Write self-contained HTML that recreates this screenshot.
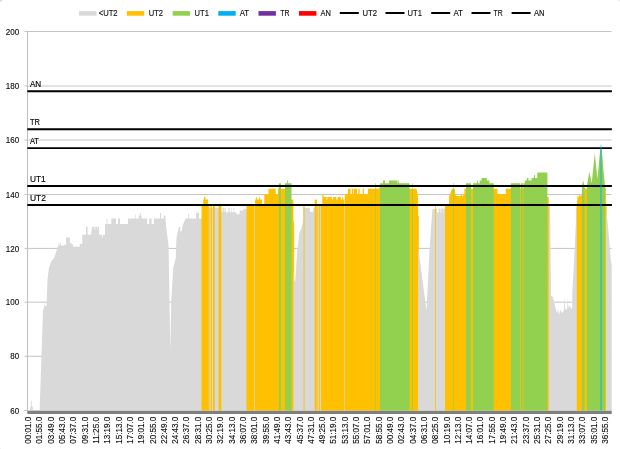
<!DOCTYPE html><html><head><meta charset="utf-8"><title>Chart</title><style>html,body{margin:0;padding:0;background:#fff}body{width:620px;height:449px;overflow:hidden}</style></head><body><svg width="620" height="449" viewBox="0 0 620 449" style="display:block;font-family:'Liberation Sans',sans-serif">
<rect width="620" height="449" fill="#fff"/>
<line x1="24.5" x2="611.6" y1="410.5" y2="410.5" stroke="#c4c4c4" stroke-width="1"/>
<line x1="24.5" x2="611.6" y1="356.3" y2="356.3" stroke="#c4c4c4" stroke-width="1"/>
<line x1="24.5" x2="611.6" y1="302.2" y2="302.2" stroke="#c4c4c4" stroke-width="1"/>
<line x1="24.5" x2="611.6" y1="248.4" y2="248.4" stroke="#c4c4c4" stroke-width="1"/>
<line x1="24.5" x2="611.6" y1="194.5" y2="194.5" stroke="#c4c4c4" stroke-width="1"/>
<line x1="24.5" x2="611.6" y1="140.0" y2="140.0" stroke="#c4c4c4" stroke-width="1"/>
<line x1="24.5" x2="611.6" y1="86.0" y2="86.0" stroke="#c4c4c4" stroke-width="1"/>
<line x1="24.5" x2="611.6" y1="31.5" y2="31.5" stroke="#c4c4c4" stroke-width="1"/>
<line x1="27.5" x2="27.5" y1="31" y2="411" stroke="#bfbfbf" stroke-width="1"/>
<path d="M27.3 410.5 L27.3 410.8 L30.2 410.8 L30.2 406.8 L30.9 406.8 L30.9 400.8 L31.7 400.8 L31.7 406.8 L32.8 406.8 L32.8 410.8 L39.6 410.8 L39.6 409.3 L39.7 409.3 L39.7 406.4 L39.8 406.4 L39.8 403.5 L39.9 403.5 L39.9 400.5 L40.0 400.5 L40.0 397.6 L40.1 397.6 L40.1 394.6 L40.2 394.6 L40.2 391.7 L40.3 391.7 L40.3 388.7 L40.4 388.7 L40.4 385.8 L40.5 385.8 L40.5 382.8 L40.6 382.8 L40.6 379.9 L40.7 379.9 L40.7 376.9 L40.8 376.9 L40.8 374.0 L40.9 374.0 L40.9 371.0 L41.0 371.0 L41.0 368.1 L41.1 368.1 L41.1 365.1 L41.2 365.1 L41.2 362.2 L41.3 362.2 L41.3 359.2 L41.4 359.2 L41.4 356.3 L41.5 356.3 L41.5 353.4 L41.6 353.4 L41.6 350.4 L41.7 350.4 L41.7 347.5 L41.8 347.5 L41.8 344.5 L41.9 344.5 L41.9 341.6 L42.0 341.6 L42.0 338.6 L42.1 338.6 L42.1 335.7 L42.2 335.7 L42.2 332.7 L42.3 332.7 L42.3 329.8 L42.4 329.8 L42.4 326.8 L42.5 326.8 L42.5 323.9 L42.6 323.9 L42.6 320.9 L42.7 320.9 L42.7 318.0 L42.8 318.0 L42.8 315.0 L42.9 315.0 L42.9 312.1 L43.0 312.1 L43.0 310.5 L43.1 310.5 L43.1 310.2 L43.2 310.2 L43.2 309.9 L43.3 309.9 L43.3 309.6 L43.4 309.6 L43.4 309.3 L43.5 309.3 L43.5 309.0 L43.6 309.0 L43.6 308.7 L43.7 308.7 L43.7 308.4 L43.8 308.4 L43.8 308.2 L43.9 308.2 L43.9 307.9 L44.0 307.9 L44.0 307.6 L44.1 307.6 L44.1 307.3 L44.2 307.3 L44.2 307.0 L44.3 307.0 L44.3 306.7 L44.4 306.7 L44.4 305.7 L44.5 305.7 L44.5 304.0 L44.6 304.0 L44.6 302.3 L44.7 302.3 L44.7 300.6 L44.8 300.6 L44.8 300.6 L44.9 300.6 L44.9 302.1 L45.0 302.1 L45.0 303.7 L45.1 303.7 L45.1 305.2 L45.2 305.2 L45.2 306.0 L46.5 306.0 L46.5 304.7 L46.6 304.7 L46.6 302.0 L46.7 302.0 L46.7 299.4 L46.8 299.4 L46.8 296.7 L46.9 296.7 L46.9 294.1 L47.0 294.1 L47.0 291.4 L47.1 291.4 L47.1 288.8 L47.2 288.8 L47.2 286.1 L47.3 286.1 L47.3 283.5 L47.4 283.5 L47.4 280.8 L47.5 280.8 L47.5 279.1 L47.6 279.1 L47.6 278.3 L47.7 278.3 L47.7 277.5 L47.8 277.5 L47.8 276.6 L47.9 276.6 L47.9 275.8 L48.0 275.8 L48.0 275.0 L48.1 275.0 L48.1 274.2 L48.2 274.2 L48.2 273.4 L48.3 273.4 L48.3 272.6 L48.4 272.6 L48.4 271.8 L48.5 271.8 L48.5 271.0 L48.6 271.0 L48.6 270.1 L48.7 270.1 L48.7 269.3 L48.8 269.3 L48.8 268.5 L48.9 268.5 L48.9 268.0 L49.0 268.0 L49.0 267.6 L49.1 267.6 L49.1 267.3 L49.2 267.3 L49.2 267.0 L49.3 267.0 L49.3 266.7 L49.4 266.7 L49.4 266.4 L49.5 266.4 L49.5 266.1 L49.6 266.1 L49.6 265.8 L49.7 265.8 L49.7 265.5 L49.8 265.5 L49.8 265.2 L49.9 265.2 L49.9 264.9 L50.0 264.9 L50.0 264.5 L50.1 264.5 L50.1 264.2 L50.2 264.2 L50.2 263.9 L50.3 263.9 L50.3 263.6 L50.4 263.6 L50.4 263.3 L50.5 263.3 L50.5 263.0 L50.6 263.0 L50.6 262.7 L50.7 262.7 L50.7 262.4 L50.8 262.4 L50.8 262.1 L50.9 262.1 L50.9 261.8 L51.0 261.8 L51.0 261.6 L51.1 261.6 L51.1 261.4 L51.2 261.4 L51.2 261.3 L51.3 261.3 L51.3 261.2 L51.4 261.2 L51.4 261.1 L51.5 261.1 L51.5 261.0 L51.6 261.0 L51.6 260.9 L51.7 260.9 L51.7 260.8 L51.8 260.8 L51.8 260.7 L51.9 260.7 L51.9 260.6 L52.0 260.6 L52.0 260.5 L52.1 260.5 L52.1 260.3 L52.2 260.3 L52.2 260.2 L52.3 260.2 L52.3 260.1 L52.4 260.1 L52.4 260.0 L52.5 260.0 L52.5 259.9 L52.6 259.9 L52.6 259.8 L52.7 259.8 L52.7 259.7 L52.8 259.7 L52.8 259.6 L52.9 259.6 L52.9 259.5 L53.0 259.5 L53.0 259.3 L53.1 259.3 L53.1 259.2 L53.2 259.2 L53.2 259.1 L53.3 259.1 L53.3 259.0 L53.4 259.0 L53.4 258.9 L53.5 258.9 L53.5 258.8 L53.6 258.8 L53.6 258.7 L53.7 258.7 L53.7 258.5 L53.8 258.5 L53.8 258.3 L53.9 258.3 L53.9 258.1 L54.0 258.1 L54.0 257.8 L54.1 257.8 L54.1 257.6 L54.2 257.6 L54.2 257.4 L54.3 257.4 L54.3 257.1 L54.4 257.1 L54.4 256.9 L54.5 256.9 L54.5 256.7 L54.6 256.7 L54.6 256.5 L54.7 256.5 L54.7 256.2 L54.8 256.2 L54.8 256.0 L54.9 256.0 L54.9 255.8 L55.0 255.8 L55.0 255.5 L55.1 255.5 L55.1 255.1 L55.2 255.1 L55.2 254.8 L55.3 254.8 L55.3 254.5 L55.4 254.5 L55.4 254.1 L55.5 254.1 L55.5 253.8 L55.6 253.8 L55.6 253.5 L55.7 253.5 L55.7 253.1 L55.8 253.1 L55.8 252.8 L55.9 252.8 L55.9 252.4 L56.0 252.4 L56.0 252.1 L56.1 252.1 L56.1 251.8 L56.2 251.8 L56.2 251.4 L56.3 251.4 L56.3 251.1 L56.4 251.1 L56.4 250.7 L56.5 250.7 L56.5 250.4 L56.6 250.4 L56.6 250.1 L56.7 250.1 L56.7 249.7 L56.8 249.7 L56.8 249.4 L56.9 249.4 L56.9 249.1 L57.0 249.1 L57.0 248.7 L57.1 248.7 L57.1 248.4 L57.2 248.4 L57.2 248.1 L57.3 248.1 L57.3 247.7 L57.4 247.7 L57.4 247.4 L57.5 247.4 L57.5 247.1 L57.6 247.1 L57.6 246.8 L57.7 246.8 L57.7 246.4 L57.8 246.4 L57.8 246.1 L57.9 246.1 L57.9 245.8 L58.0 245.8 L58.0 245.6 L58.6 245.6 L58.6 242.9 L59.4 242.9 L59.4 245.6 L60.2 245.6 L60.2 242.9 L61.0 242.9 L61.0 245.6 L64.0 245.6 L64.0 244.8 L66.0 244.8 L66.0 237.5 L69.8 237.5 L69.8 242.9 L71.5 242.9 L71.5 244.3 L73.0 244.3 L73.0 246.7 L79.8 246.7 L79.8 243.7 L82.3 243.7 L82.3 234.8 L86.0 234.8 L86.0 226.7 L87.6 226.7 L87.6 234.8 L91.0 234.8 L91.0 234.4 L91.1 234.4 L91.1 233.6 L91.2 233.6 L91.2 232.8 L91.3 232.8 L91.3 232.0 L91.4 232.0 L91.4 231.1 L91.5 231.1 L91.5 230.3 L91.6 230.3 L91.6 229.5 L91.7 229.5 L91.7 228.7 L91.8 228.7 L91.8 227.9 L91.9 227.9 L91.9 227.1 L92.0 227.1 L92.0 226.7 L94.5 226.7 L94.5 229.4 L95.3 229.4 L95.3 226.7 L97.0 226.7 L97.0 229.4 L97.6 229.4 L97.6 226.7 L99.0 226.7 L99.0 234.8 L102.0 234.8 L102.0 237.5 L102.8 237.5 L102.8 234.8 L105.0 234.8 L105.0 224.0 L106.6 224.0 L106.6 218.6 L107.4 218.6 L107.4 224.0 L111.3 224.0 L111.3 218.6 L116.0 218.6 L116.0 224.0 L118.0 224.0 L118.0 218.6 L120.0 218.6 L120.0 224.0 L128.0 224.0 L128.0 218.6 L135.2 218.6 L135.2 214.5 L135.8 214.5 L135.8 218.6 L138.7 218.6 L138.7 215.8 L139.8 215.8 L139.8 213.1 L140.8 213.1 L140.8 215.8 L141.6 215.8 L141.6 218.6 L147.0 218.6 L147.0 224.0 L149.3 224.0 L149.3 218.6 L151.6 218.6 L151.6 224.0 L154.0 224.0 L154.0 218.6 L160.0 218.6 L160.0 213.1 L161.0 213.1 L161.0 218.6 L163.7 218.6 L163.7 215.8 L165.3 215.8 L165.3 216.5 L165.4 216.5 L165.4 217.9 L165.5 217.9 L165.5 219.2 L165.6 219.2 L165.6 220.6 L165.7 220.6 L165.7 221.9 L165.8 221.9 L165.8 223.3 L165.9 223.3 L165.9 224.6 L166.0 224.6 L166.0 225.7 L166.1 225.7 L166.1 226.5 L166.2 226.5 L166.2 227.3 L166.3 227.3 L166.3 228.1 L166.4 228.1 L166.4 228.9 L166.5 228.9 L166.5 229.7 L166.6 229.7 L166.6 230.5 L166.7 230.5 L166.7 231.3 L166.8 231.3 L166.8 232.1 L166.9 232.1 L166.9 232.9 L167.0 232.9 L167.0 233.7 L167.1 233.7 L167.1 234.5 L167.2 234.5 L167.2 235.3 L167.3 235.3 L167.3 236.1 L167.4 236.1 L167.4 237.0 L167.5 237.0 L167.5 237.8 L167.6 237.8 L167.6 238.6 L167.7 238.6 L167.7 239.4 L167.8 239.4 L167.8 240.2 L167.9 240.2 L167.9 241.0 L168.0 241.0 L168.0 241.8 L168.1 241.8 L168.1 242.6 L168.2 242.6 L168.2 243.4 L168.3 243.4 L168.3 244.2 L168.4 244.2 L168.4 245.0 L168.5 245.0 L168.5 245.8 L168.6 245.8 L168.6 249.2 L168.7 249.2 L168.7 255.4 L168.8 255.4 L168.8 261.5 L168.9 261.5 L168.9 267.7 L169.0 267.7 L169.0 273.8 L169.1 273.8 L169.1 279.9 L169.2 279.9 L169.2 286.1 L169.3 286.1 L169.3 292.2 L169.4 292.2 L169.4 298.3 L169.5 298.3 L169.5 304.6 L169.6 304.6 L169.6 311.0 L169.7 311.0 L169.7 317.3 L169.8 317.3 L169.8 323.7 L169.9 323.7 L169.9 330.1 L170.0 330.1 L170.0 336.4 L170.1 336.4 L170.1 342.8 L170.2 342.8 L170.2 349.1 L170.3 349.1 L170.3 349.5 L170.4 349.5 L170.4 343.8 L170.5 343.8 L170.5 338.2 L170.6 338.2 L170.6 332.5 L170.7 332.5 L170.7 326.9 L170.8 326.9 L170.8 321.2 L170.9 321.2 L170.9 315.6 L171.0 315.6 L171.0 309.9 L171.1 309.9 L171.1 304.2 L171.2 304.2 L171.2 300.6 L171.3 300.6 L171.3 299.0 L171.4 299.0 L171.4 297.4 L171.5 297.4 L171.5 295.7 L171.6 295.7 L171.6 294.1 L171.7 294.1 L171.7 292.5 L171.8 292.5 L171.8 290.9 L171.9 290.9 L171.9 289.2 L172.0 289.2 L172.0 287.6 L172.1 287.6 L172.1 286.0 L172.2 286.0 L172.2 284.4 L172.3 284.4 L172.3 282.7 L172.4 282.7 L172.4 281.1 L172.5 281.1 L172.5 279.5 L172.6 279.5 L172.6 277.9 L172.7 277.9 L172.7 276.2 L172.8 276.2 L172.8 274.6 L172.9 274.6 L172.9 273.0 L173.0 273.0 L173.0 271.4 L173.1 271.4 L173.1 269.7 L173.2 269.7 L173.2 268.1 L173.3 268.1 L173.3 267.1 L173.4 267.1 L173.4 266.7 L173.5 266.7 L173.5 266.3 L173.6 266.3 L173.6 266.0 L173.7 266.0 L173.7 265.6 L173.8 265.6 L173.8 265.2 L173.9 265.2 L173.9 264.8 L174.0 264.8 L174.0 264.5 L174.1 264.5 L174.1 264.1 L174.2 264.1 L174.2 263.7 L174.3 263.7 L174.3 263.3 L174.4 263.3 L174.4 262.9 L174.5 262.9 L174.5 262.6 L174.6 262.6 L174.6 262.2 L174.7 262.2 L174.7 261.8 L174.8 261.8 L174.8 261.4 L174.9 261.4 L174.9 261.0 L175.0 261.0 L175.0 260.7 L175.1 260.7 L175.1 260.3 L175.2 260.3 L175.2 259.9 L175.3 259.9 L175.3 259.5 L175.4 259.5 L175.4 259.1 L175.5 259.1 L175.5 258.8 L175.6 258.8 L175.6 258.4 L175.7 258.4 L175.7 258.0 L175.8 258.0 L175.8 256.2 L175.9 256.2 L175.9 253.1 L176.0 253.1 L176.0 249.9 L176.1 249.9 L176.1 246.8 L176.2 246.8 L176.2 243.6 L176.3 243.6 L176.3 240.4 L176.4 240.4 L176.4 238.6 L176.5 238.6 L176.5 238.0 L176.6 238.0 L176.6 237.5 L176.7 237.5 L176.7 236.9 L176.8 236.9 L176.8 236.3 L176.9 236.3 L176.9 235.8 L177.0 235.8 L177.0 235.2 L177.1 235.2 L177.1 234.6 L177.2 234.6 L177.2 234.1 L177.3 234.1 L177.3 233.5 L177.4 233.5 L177.4 232.9 L177.5 232.9 L177.5 232.4 L177.6 232.4 L177.6 231.9 L177.7 231.9 L177.7 231.5 L177.8 231.5 L177.8 231.1 L177.9 231.1 L177.9 230.7 L178.0 230.7 L178.0 230.4 L178.1 230.4 L178.1 230.0 L178.2 230.0 L178.2 229.6 L178.3 229.6 L178.3 229.2 L178.4 229.2 L178.4 228.8 L178.5 228.8 L178.5 228.4 L178.6 228.4 L178.6 228.0 L178.7 228.0 L178.7 227.6 L178.8 227.6 L178.8 227.3 L178.9 227.3 L178.9 226.9 L179.0 226.9 L179.0 226.7 L180.2 226.7 L180.2 231.3 L181.5 231.3 L181.5 231.0 L181.6 231.0 L181.6 230.5 L181.7 230.5 L181.7 230.0 L181.8 230.0 L181.8 229.5 L181.9 229.5 L181.9 228.9 L182.0 228.9 L182.0 228.4 L182.1 228.4 L182.1 227.9 L182.2 227.9 L182.2 227.4 L182.3 227.4 L182.3 226.9 L182.4 226.9 L182.4 226.3 L182.5 226.3 L182.5 225.8 L182.6 225.8 L182.6 225.3 L182.7 225.3 L182.7 224.9 L182.8 224.9 L182.8 224.7 L182.9 224.7 L182.9 224.5 L183.0 224.5 L183.0 224.3 L183.1 224.3 L183.1 224.1 L183.2 224.1 L183.2 223.8 L183.3 223.8 L183.3 223.6 L183.4 223.6 L183.4 223.4 L183.5 223.4 L183.5 223.2 L183.6 223.2 L183.6 223.0 L183.7 223.0 L183.7 222.8 L183.8 222.8 L183.8 222.5 L183.9 222.5 L183.9 222.3 L184.0 222.3 L184.0 222.1 L184.1 222.1 L184.1 221.9 L184.2 221.9 L184.2 221.7 L184.3 221.7 L184.3 221.4 L184.4 221.4 L184.4 221.2 L184.5 221.2 L184.5 221.0 L184.6 221.0 L184.6 220.8 L184.7 220.8 L184.7 220.6 L184.8 220.6 L184.8 220.3 L184.9 220.3 L184.9 220.1 L185.0 220.1 L185.0 219.9 L185.1 219.9 L185.1 219.7 L185.2 219.7 L185.2 219.5 L185.3 219.5 L185.3 218.6 L188.2 218.6 L188.2 213.9 L189.0 213.9 L189.0 218.6 L196.0 218.6 L196.0 213.1 L196.8 213.1 L196.8 210.4 L197.4 210.4 L197.4 213.1 L199.0 213.1 L199.0 218.6 L201.5 218.6 L201.5 410.5 Z" fill="#d9d9d9"/>
<path d="M200.75 410.5 L200.75 218.9 L202.25 218.9 L202.25 410.5 Z" fill="#d9d9d9"/>
<path d="M201.5 410.5 L201.5 204.2 L203.2 204.2 L203.2 199.6 L204.0 199.6 L204.0 196.9 L205.4 196.9 L205.4 199.6 L208.0 199.6 L208.0 204.2 L208.9 204.2 L208.9 410.5 Z" fill="#ffc000"/>
<path d="M208.15 410.5 L208.15 208.0 L209.65 208.0 L209.65 410.5 Z" fill="#ffc000"/>
<path d="M208.9 410.5 L208.9 207.7 L209.7 207.7 L209.7 410.5 Z" fill="#d9d9d9"/>
<path d="M208.95 410.5 L208.95 208.0 L210.45 208.0 L210.45 410.5 Z" fill="#d9d9d9"/>
<path d="M209.7 410.5 L209.7 204.2 L210.6 204.2 L210.6 410.5 Z" fill="#ffc000"/>
<path d="M209.85 410.5 L209.85 208.0 L211.35 208.0 L211.35 410.5 Z" fill="#ffc000"/>
<path d="M210.6 410.5 L210.6 207.7 L211.3 207.7 L211.3 410.5 Z" fill="#d9d9d9"/>
<path d="M210.60 410.5 L210.60 208.0 L212.05 208.0 L212.05 410.5 Z" fill="#d9d9d9"/>
<path d="M211.3 410.5 L211.3 204.2 L212.0 204.2 L212.0 410.5 Z" fill="#ffc000"/>
<path d="M211.30 410.5 L211.30 208.0 L212.75 208.0 L212.75 410.5 Z" fill="#ffc000"/>
<path d="M212.0 410.5 L212.0 207.7 L213.0 207.7 L213.0 410.5 Z" fill="#d9d9d9"/>
<path d="M212.25 410.5 L212.25 208.0 L213.75 208.0 L213.75 410.5 Z" fill="#d9d9d9"/>
<path d="M213.0 410.5 L213.0 204.2 L214.8 204.2 L214.8 410.5 Z" fill="#ffc000"/>
<path d="M214.05 410.5 L214.05 208.0 L215.55 208.0 L215.55 410.5 Z" fill="#ffc000"/>
<path d="M214.8 410.5 L214.8 207.7 L218.6 207.7 L218.6 410.5 Z" fill="#d9d9d9"/>
<path d="M217.85 410.5 L217.85 208.0 L219.35 208.0 L219.35 410.5 Z" fill="#d9d9d9"/>
<path d="M218.6 410.5 L218.6 204.2 L221.3 204.2 L221.3 410.5 Z" fill="#ffc000"/>
<path d="M220.55 410.5 L220.55 212.1 L222.05 212.1 L222.05 410.5 Z" fill="#ffc000"/>
<path d="M221.3 410.5 L221.3 211.8 L221.5 211.8 L221.5 207.7 L222.4 207.7 L222.4 211.8 L223.0 211.8 L223.0 207.7 L223.9 207.7 L223.9 211.8 L224.5 211.8 L224.5 207.7 L225.6 207.7 L225.6 211.8 L226.0 211.8 L226.0 212.3 L228.0 212.3 L228.0 207.7 L228.5 207.7 L228.5 212.3 L229.3 212.3 L229.3 207.7 L230.0 207.7 L230.0 212.3 L231.0 212.3 L231.0 207.7 L231.6 207.7 L231.6 212.3 L233.5 212.3 L233.5 207.7 L234.2 207.7 L234.2 212.3 L236.4 212.3 L236.4 214.2 L239.6 214.2 L239.6 210.4 L243.5 210.4 L243.5 208.8 L246.5 208.8 L246.5 410.5 Z" fill="#d9d9d9"/>
<path d="M245.75 410.5 L245.75 209.1 L247.25 209.1 L247.25 410.5 Z" fill="#d9d9d9"/>
<path d="M246.5 410.5 L246.5 204.2 L254.5 204.2 L254.5 410.5 Z" fill="#ffc000"/>
<path d="M253.75 410.5 L253.75 207.2 L255.25 207.2 L255.25 410.5 Z" fill="#ffc000"/>
<path d="M254.5 410.5 L254.5 206.9 L255.0 206.9 L255.0 410.5 Z" fill="#d9d9d9"/>
<path d="M254.50 410.5 L254.50 207.2 L255.75 207.2 L255.75 410.5 Z" fill="#d9d9d9"/>
<path d="M255.0 410.5 L255.0 199.6 L256.0 199.6 L256.0 196.9 L256.8 196.9 L256.8 199.6 L259.2 199.6 L259.2 196.9 L260.0 196.9 L260.0 199.6 L262.0 199.6 L262.0 204.2 L264.3 204.2 L264.3 194.2 L268.5 194.2 L268.5 188.8 L275.6 188.8 L275.6 194.2 L278.0 194.2 L278.0 188.8 L278.8 188.8 L278.8 410.5 Z" fill="#ffc000"/>
<path d="M278.05 410.5 L278.05 189.1 L279.55 189.1 L279.55 410.5 Z" fill="#ffc000"/>
<path d="M278.8 410.5 L278.8 183.3 L281.0 183.3 L281.0 410.5 Z" fill="#92d050"/>
<path d="M280.25 410.5 L280.25 189.1 L281.75 189.1 L281.75 410.5 Z" fill="#92d050"/>
<path d="M281.0 410.5 L281.0 188.8 L285.0 188.8 L285.0 410.5 Z" fill="#ffc000"/>
<path d="M284.25 410.5 L284.25 189.1 L285.75 189.1 L285.75 410.5 Z" fill="#ffc000"/>
<path d="M285.0 410.5 L285.0 183.3 L287.0 183.3 L287.0 180.6 L287.8 180.6 L287.8 183.3 L291.5 183.3 L291.5 410.5 Z" fill="#92d050"/>
<path d="M290.75 410.5 L290.75 199.9 L292.25 199.9 L292.25 410.5 Z" fill="#92d050"/>
<path d="M291.5 410.5 L291.5 199.6 L293.3 199.6 L293.3 202.3 L293.4 202.3 L293.4 410.5 Z" fill="#ffc000"/>
<path d="M292.65 410.5 L292.65 221.6 L294.15 221.6 L294.15 410.5 Z" fill="#ffc000"/>
<path d="M293.4 410.5 L293.4 221.3 L293.5 221.3 L293.5 253.8 L293.6 253.8 L293.6 270.7 L293.7 270.7 L293.7 272.1 L293.8 272.1 L293.8 273.5 L293.9 273.5 L293.9 275.0 L294.0 275.0 L294.0 276.4 L294.1 276.4 L294.1 277.8 L294.2 277.8 L294.2 279.2 L294.3 279.2 L294.3 280.6 L294.4 280.6 L294.4 282.0 L294.5 282.0 L294.5 282.6 L294.6 282.6 L294.6 282.3 L294.7 282.3 L294.7 282.1 L294.8 282.1 L294.8 281.8 L294.9 281.8 L294.9 281.5 L295.0 281.5 L295.0 281.2 L295.1 281.2 L295.1 281.0 L295.2 281.0 L295.2 280.1 L295.3 280.1 L295.3 278.7 L295.4 278.7 L295.4 277.2 L295.5 277.2 L295.5 275.8 L295.6 275.8 L295.6 274.4 L295.7 274.4 L295.7 272.9 L295.8 272.9 L295.8 271.5 L295.9 271.5 L295.9 270.0 L296.0 270.0 L296.0 268.6 L296.1 268.6 L296.1 267.2 L296.2 267.2 L296.2 265.7 L296.3 265.7 L296.3 264.3 L296.4 264.3 L296.4 262.8 L296.5 262.8 L296.5 261.4 L296.6 261.4 L296.6 260.0 L296.7 260.0 L296.7 258.5 L296.8 258.5 L296.8 257.1 L296.9 257.1 L296.9 255.6 L297.0 255.6 L297.0 254.2 L297.1 254.2 L297.1 252.8 L297.2 252.8 L297.2 251.3 L297.3 251.3 L297.3 249.9 L297.4 249.9 L297.4 248.7 L297.5 248.7 L297.5 247.9 L297.6 247.9 L297.6 247.1 L297.7 247.1 L297.7 246.3 L297.8 246.3 L297.8 245.5 L297.9 245.5 L297.9 244.7 L298.0 244.7 L298.0 243.9 L298.1 243.9 L298.1 243.1 L298.2 243.1 L298.2 242.2 L298.3 242.2 L298.3 241.4 L298.4 241.4 L298.4 240.6 L298.5 240.6 L298.5 239.8 L298.6 239.8 L298.6 239.0 L298.7 239.0 L298.7 238.2 L298.8 238.2 L298.8 237.4 L298.9 237.4 L298.9 236.6 L299.0 236.6 L299.0 235.7 L299.1 235.7 L299.1 234.9 L299.2 234.9 L299.2 234.1 L299.3 234.1 L299.3 233.3 L299.4 233.3 L299.4 232.8 L299.5 232.8 L299.5 232.5 L299.6 232.5 L299.6 232.3 L299.7 232.3 L299.7 232.1 L299.8 232.1 L299.8 231.8 L299.9 231.8 L299.9 231.6 L300.0 231.6 L300.0 231.3 L300.1 231.3 L300.1 231.1 L300.2 231.1 L300.2 230.9 L300.3 230.9 L300.3 230.6 L300.4 230.6 L300.4 230.4 L300.5 230.4 L300.5 230.1 L300.6 230.1 L300.6 229.9 L300.7 229.9 L300.7 229.7 L300.8 229.7 L300.8 229.4 L300.9 229.4 L300.9 229.2 L301.0 229.2 L301.0 229.0 L301.1 229.0 L301.1 228.7 L301.2 228.7 L301.2 228.5 L301.3 228.5 L301.3 228.2 L301.4 228.2 L301.4 228.0 L301.5 228.0 L301.5 227.8 L301.6 227.8 L301.6 227.5 L301.7 227.5 L301.7 227.3 L301.8 227.3 L301.8 227.0 L301.9 227.0 L301.9 226.8 L302.0 226.8 L302.0 226.4 L302.1 226.4 L302.1 225.8 L302.2 225.8 L302.2 225.2 L302.3 225.2 L302.3 224.6 L302.4 224.6 L302.4 224.1 L302.5 224.1 L302.5 223.5 L302.6 223.5 L302.6 222.9 L302.7 222.9 L302.7 222.3 L302.8 222.3 L302.8 221.7 L302.9 221.7 L302.9 221.1 L303.0 221.1 L303.0 220.6 L303.1 220.6 L303.1 220.0 L303.2 220.0 L303.2 219.4 L303.3 219.4 L303.3 217.6 L303.4 217.6 L303.4 214.8 L303.5 214.8 L303.5 211.9 L303.6 211.9 L303.6 209.0 L303.7 209.0 L303.7 206.1 L303.8 206.1 L303.8 410.5 Z" fill="#d9d9d9"/>
<path d="M303.05 410.5 L303.05 206.4 L304.55 206.4 L304.55 410.5 Z" fill="#d9d9d9"/>
<path d="M303.8 410.5 L303.8 204.2 L304.5 204.2 L304.5 410.5 Z" fill="#ffc000"/>
<path d="M303.80 410.5 L303.80 208.0 L305.25 208.0 L305.25 410.5 Z" fill="#ffc000"/>
<path d="M304.5 410.5 L304.5 207.7 L310.0 207.7 L310.0 211.8 L313.4 211.8 L313.4 207.7 L314.7 207.7 L314.7 410.5 Z" fill="#d9d9d9"/>
<path d="M313.95 410.5 L313.95 208.0 L315.45 208.0 L315.45 410.5 Z" fill="#d9d9d9"/>
<path d="M314.7 410.5 L314.7 199.6 L316.8 199.6 L316.8 410.5 Z" fill="#ffc000"/>
<path d="M316.05 410.5 L316.05 206.7 L317.55 206.7 L317.55 410.5 Z" fill="#ffc000"/>
<path d="M316.8 410.5 L316.8 206.4 L317.4 206.4 L317.4 410.5 Z" fill="#d9d9d9"/>
<path d="M316.80 410.5 L316.80 206.7 L318.15 206.7 L318.15 410.5 Z" fill="#d9d9d9"/>
<path d="M317.4 410.5 L317.4 204.2 L318.3 204.2 L318.3 410.5 Z" fill="#ffc000"/>
<path d="M317.55 410.5 L317.55 206.7 L319.05 206.7 L319.05 410.5 Z" fill="#ffc000"/>
<path d="M318.3 410.5 L318.3 206.4 L319.1 206.4 L319.1 410.5 Z" fill="#d9d9d9"/>
<path d="M318.35 410.5 L318.35 206.7 L319.85 206.7 L319.85 410.5 Z" fill="#d9d9d9"/>
<path d="M319.1 410.5 L319.1 204.2 L320.3 204.2 L320.3 410.5 Z" fill="#ffc000"/>
<path d="M319.55 410.5 L319.55 206.7 L321.05 206.7 L321.05 410.5 Z" fill="#ffc000"/>
<path d="M320.3 410.5 L320.3 206.4 L321.0 206.4 L321.0 410.5 Z" fill="#d9d9d9"/>
<path d="M320.30 410.5 L320.30 206.7 L321.75 206.7 L321.75 410.5 Z" fill="#d9d9d9"/>
<path d="M321.0 410.5 L321.0 204.2 L322.3 204.2 L322.3 194.2 L323.5 194.2 L323.5 196.9 L326.6 196.9 L326.6 199.6 L327.3 199.6 L327.3 196.9 L331.8 196.9 L331.8 199.6 L333.1 199.6 L333.1 196.9 L336.3 196.9 L336.3 199.6 L337.6 199.6 L337.6 196.9 L340.8 196.9 L340.8 199.6 L342.1 199.6 L342.1 196.9 L343.0 196.9 L343.0 199.6 L344.3 199.6 L344.3 410.5 Z" fill="#ffc000"/>
<path d="M343.55 410.5 L343.55 206.7 L345.05 206.7 L345.05 410.5 Z" fill="#ffc000"/>
<path d="M344.3 410.5 L344.3 206.4 L344.8 206.4 L344.8 410.5 Z" fill="#d9d9d9"/>
<path d="M344.30 410.5 L344.30 206.7 L345.55 206.7 L345.55 410.5 Z" fill="#d9d9d9"/>
<path d="M344.8 410.5 L344.8 194.2 L347.9 194.2 L347.9 188.8 L350.5 188.8 L350.5 194.2 L351.8 194.2 L351.8 188.8 L353.1 188.8 L353.1 194.2 L353.8 194.2 L353.8 188.8 L357.0 188.8 L357.0 194.2 L358.3 194.2 L358.3 188.8 L359.6 188.8 L359.6 194.2 L362.8 194.2 L362.8 188.8 L364.1 188.8 L364.1 194.2 L368.0 194.2 L368.0 188.8 L375.0 188.8 L375.0 410.5 Z" fill="#ffc000"/>
<path d="M374.25 410.5 L374.25 189.1 L375.75 189.1 L375.75 410.5 Z" fill="#ffc000"/>
<path d="M375.0 410.5 L375.0 183.3 L375.6 183.3 L375.6 410.5 Z" fill="#92d050"/>
<path d="M375.00 410.5 L375.00 189.1 L376.35 189.1 L376.35 410.5 Z" fill="#92d050"/>
<path d="M375.6 410.5 L375.6 188.8 L379.8 188.8 L379.8 187.4 L379.9 187.4 L379.9 410.5 Z" fill="#ffc000"/>
<path d="M379.15 410.5 L379.15 187.7 L380.65 187.7 L380.65 410.5 Z" fill="#ffc000"/>
<path d="M379.9 410.5 L379.9 184.7 L380.0 184.7 L380.0 183.3 L383.0 183.3 L383.0 180.6 L385.0 180.6 L385.0 183.3 L389.0 183.3 L389.0 180.6 L397.5 180.6 L397.5 183.3 L398.0 183.3 L398.0 180.6 L398.7 180.6 L398.7 183.3 L409.6 183.3 L409.6 410.5 Z" fill="#92d050"/>
<path d="M408.85 410.5 L408.85 189.1 L410.35 189.1 L410.35 410.5 Z" fill="#92d050"/>
<path d="M409.6 410.5 L409.6 188.8 L412.2 188.8 L412.2 410.5 Z" fill="#ffc000"/>
<path d="M411.45 410.5 L411.45 189.1 L412.95 189.1 L412.95 410.5 Z" fill="#ffc000"/>
<path d="M412.2 410.5 L412.2 183.3 L412.8 183.3 L412.8 410.5 Z" fill="#92d050"/>
<path d="M412.20 410.5 L412.20 189.1 L413.55 189.1 L413.55 410.5 Z" fill="#92d050"/>
<path d="M412.8 410.5 L412.8 188.8 L416.5 188.8 L416.5 189.0 L416.6 189.0 L416.6 189.6 L416.7 189.6 L416.7 190.1 L416.8 190.1 L416.8 190.7 L416.9 190.7 L416.9 191.2 L417.0 191.2 L417.0 191.7 L417.1 191.7 L417.1 192.3 L417.2 192.3 L417.2 192.8 L417.3 192.8 L417.3 193.4 L417.4 193.4 L417.4 193.9 L417.5 193.9 L417.5 194.5 L417.6 194.5 L417.6 195.0 L417.7 195.0 L417.7 195.5 L417.8 195.5 L417.8 196.1 L417.9 196.1 L417.9 196.6 L418.0 196.6 L418.0 201.0 L418.1 201.0 L418.1 410.5 Z" fill="#ffc000"/>
<path d="M417.35 410.5 L417.35 216.1 L418.85 216.1 L418.85 410.5 Z" fill="#ffc000"/>
<path d="M418.1 410.5 L418.1 215.8 L418.2 215.8 L418.2 237.5 L418.3 237.5 L418.3 248.7 L418.4 248.7 L418.4 249.5 L418.5 249.5 L418.5 250.2 L418.6 250.2 L418.6 251.0 L418.7 251.0 L418.7 251.8 L418.8 251.8 L418.8 252.5 L418.9 252.5 L418.9 253.3 L419.0 253.3 L419.0 254.0 L419.1 254.0 L419.1 254.8 L419.2 254.8 L419.2 255.6 L419.3 255.6 L419.3 256.3 L419.4 256.3 L419.4 257.1 L419.5 257.1 L419.5 257.8 L419.6 257.8 L419.6 258.6 L419.7 258.6 L419.7 259.4 L419.8 259.4 L419.8 260.1 L419.9 260.1 L419.9 260.9 L420.0 260.9 L420.0 261.6 L420.1 261.6 L420.1 262.4 L420.2 262.4 L420.2 263.2 L420.3 263.2 L420.3 263.9 L420.4 263.9 L420.4 264.7 L420.5 264.7 L420.5 265.4 L420.6 265.4 L420.6 266.2 L420.7 266.2 L420.7 266.9 L420.8 266.9 L420.8 267.7 L420.9 267.7 L420.9 268.5 L421.0 268.5 L421.0 269.2 L421.1 269.2 L421.1 270.0 L421.2 270.0 L421.2 270.7 L421.3 270.7 L421.3 271.5 L421.4 271.5 L421.4 272.3 L421.5 272.3 L421.5 273.0 L421.6 273.0 L421.6 273.8 L421.7 273.8 L421.7 274.5 L421.8 274.5 L421.8 275.3 L421.9 275.3 L421.9 276.1 L422.0 276.1 L422.0 276.8 L422.1 276.8 L422.1 277.6 L422.2 277.6 L422.2 278.3 L422.3 278.3 L422.3 279.1 L422.4 279.1 L422.4 279.9 L422.5 279.9 L422.5 280.6 L422.6 280.6 L422.6 281.4 L422.7 281.4 L422.7 282.1 L422.8 282.1 L422.8 282.9 L422.9 282.9 L422.9 283.7 L423.0 283.7 L423.0 284.4 L423.1 284.4 L423.1 285.2 L423.2 285.2 L423.2 285.9 L423.3 285.9 L423.3 286.7 L423.4 286.7 L423.4 287.5 L423.5 287.5 L423.5 288.2 L423.6 288.2 L423.6 289.0 L423.7 289.0 L423.7 289.7 L423.8 289.7 L423.8 290.5 L423.9 290.5 L423.9 291.3 L424.0 291.3 L424.0 292.0 L424.1 292.0 L424.1 292.8 L424.2 292.8 L424.2 293.5 L424.3 293.5 L424.3 294.3 L424.4 294.3 L424.4 295.1 L424.5 295.1 L424.5 295.8 L424.6 295.8 L424.6 296.6 L424.7 296.6 L424.7 297.3 L424.8 297.3 L424.8 298.1 L424.9 298.1 L424.9 298.9 L425.0 298.9 L425.0 299.6 L425.1 299.6 L425.1 300.4 L425.2 300.4 L425.2 301.1 L425.3 301.1 L425.3 301.9 L425.4 301.9 L425.4 302.6 L425.5 302.6 L425.5 303.4 L425.6 303.4 L425.6 304.2 L425.7 304.2 L425.7 304.9 L425.8 304.9 L425.8 305.7 L425.9 305.7 L425.9 306.4 L426.0 306.4 L426.0 307.2 L426.1 307.2 L426.1 308.0 L426.2 308.0 L426.2 308.7 L426.3 308.7 L426.3 309.5 L426.4 309.5 L426.4 310.2 L426.5 310.2 L426.5 309.6 L426.6 309.6 L426.6 307.6 L426.7 307.6 L426.7 305.6 L426.8 305.6 L426.8 303.6 L426.9 303.6 L426.9 301.6 L427.0 301.6 L427.0 299.6 L427.1 299.6 L427.1 297.6 L427.2 297.6 L427.2 295.6 L427.3 295.6 L427.3 293.5 L427.4 293.5 L427.4 291.5 L427.5 291.5 L427.5 289.5 L427.6 289.5 L427.6 287.5 L427.7 287.5 L427.7 285.5 L427.8 285.5 L427.8 283.5 L427.9 283.5 L427.9 281.5 L428.0 281.5 L428.0 279.5 L428.1 279.5 L428.1 277.5 L428.2 277.5 L428.2 275.5 L428.3 275.5 L428.3 273.5 L428.4 273.5 L428.4 271.4 L428.5 271.4 L428.5 269.4 L428.6 269.4 L428.6 267.4 L428.7 267.4 L428.7 265.4 L428.8 265.4 L428.8 263.4 L428.9 263.4 L428.9 261.4 L429.0 261.4 L429.0 259.4 L429.1 259.4 L429.1 257.4 L429.2 257.4 L429.2 255.4 L429.3 255.4 L429.3 253.4 L429.4 253.4 L429.4 251.4 L429.5 251.4 L429.5 249.3 L429.6 249.3 L429.6 247.6 L429.7 247.6 L429.7 246.2 L429.8 246.2 L429.8 244.8 L429.9 244.8 L429.9 243.4 L430.0 243.4 L430.0 242.0 L430.1 242.0 L430.1 240.6 L430.2 240.6 L430.2 239.2 L430.3 239.2 L430.3 237.8 L430.4 237.8 L430.4 236.4 L430.5 236.4 L430.5 235.0 L430.6 235.0 L430.6 233.6 L430.7 233.6 L430.7 232.2 L430.8 232.2 L430.8 230.8 L430.9 230.8 L430.9 229.4 L431.0 229.4 L431.0 228.0 L431.1 228.0 L431.1 226.6 L431.2 226.6 L431.2 225.2 L431.3 225.2 L431.3 223.8 L431.4 223.8 L431.4 222.4 L431.5 222.4 L431.5 221.0 L431.6 221.0 L431.6 219.6 L431.7 219.6 L431.7 218.2 L431.8 218.2 L431.8 216.7 L431.9 216.7 L431.9 215.3 L432.0 215.3 L432.0 213.9 L432.1 213.9 L432.1 212.5 L432.2 212.5 L432.2 211.1 L432.3 211.1 L432.3 210.3 L432.4 210.3 L432.4 210.0 L432.5 210.0 L432.5 209.8 L432.6 209.8 L432.6 209.5 L432.7 209.5 L432.7 209.2 L432.8 209.2 L432.8 208.9 L432.9 208.9 L432.9 208.7 L433.0 208.7 L433.0 208.4 L433.1 208.4 L433.1 208.1 L433.2 208.1 L433.2 207.9 L433.3 207.9 L433.3 209.1 L435.3 209.1 L435.3 410.5 Z" fill="#d9d9d9"/>
<path d="M434.55 410.5 L434.55 209.4 L436.05 209.4 L436.05 410.5 Z" fill="#d9d9d9"/>
<path d="M435.3 410.5 L435.3 204.2 L435.9 204.2 L435.9 410.5 Z" fill="#ffc000"/>
<path d="M435.30 410.5 L435.30 208.8 L436.65 208.8 L436.65 410.5 Z" fill="#ffc000"/>
<path d="M435.9 410.5 L435.9 208.5 L436.2 208.5 L436.2 212.6 L438.6 212.6 L438.6 208.5 L440.5 208.5 L440.5 212.6 L441.3 212.6 L441.3 208.5 L443.0 208.5 L443.0 212.6 L443.4 212.6 L443.4 208.5 L445.0 208.5 L445.0 410.5 Z" fill="#d9d9d9"/>
<path d="M444.25 410.5 L444.25 208.8 L445.75 208.8 L445.75 410.5 Z" fill="#d9d9d9"/>
<path d="M445.0 410.5 L445.0 204.2 L449.0 204.2 L449.0 196.8 L449.1 196.8 L449.1 196.5 L449.2 196.5 L449.2 196.2 L449.3 196.2 L449.3 195.9 L449.4 195.9 L449.4 195.7 L449.5 195.7 L449.5 195.4 L449.6 195.4 L449.6 195.1 L449.7 195.1 L449.7 194.9 L449.8 194.9 L449.8 194.6 L449.9 194.6 L449.9 194.3 L450.0 194.3 L450.0 194.0 L450.1 194.0 L450.1 193.8 L450.2 193.8 L450.2 193.5 L450.3 193.5 L450.3 193.2 L450.4 193.2 L450.4 193.0 L450.5 193.0 L450.5 192.7 L450.6 192.7 L450.6 192.4 L450.7 192.4 L450.7 192.1 L450.8 192.1 L450.8 191.9 L450.9 191.9 L450.9 191.6 L451.0 191.6 L451.0 191.3 L451.1 191.3 L451.1 191.1 L451.2 191.1 L451.2 190.8 L451.3 190.8 L451.3 190.5 L451.4 190.5 L451.4 190.3 L451.5 190.3 L451.5 190.0 L451.6 190.0 L451.6 189.7 L451.7 189.7 L451.7 189.4 L451.8 189.4 L451.8 189.2 L451.9 189.2 L451.9 188.9 L452.0 188.9 L452.0 188.8 L453.3 188.8 L453.3 410.5 Z" fill="#ffc000"/>
<path d="M452.55 410.5 L452.55 189.1 L454.05 189.1 L454.05 410.5 Z" fill="#ffc000"/>
<path d="M453.3 410.5 L453.3 183.3 L453.8 183.3 L453.8 410.5 Z" fill="#92d050"/>
<path d="M453.30 410.5 L453.30 189.1 L454.55 189.1 L454.55 410.5 Z" fill="#92d050"/>
<path d="M453.8 410.5 L453.8 188.8 L454.7 188.8 L454.7 194.2 L456.0 194.2 L456.0 196.1 L460.8 196.1 L460.8 194.2 L462.0 194.2 L462.0 196.1 L463.2 196.1 L463.2 194.2 L464.4 194.2 L464.4 188.8 L466.0 188.8 L466.0 410.5 Z" fill="#ffc000"/>
<path d="M465.25 410.5 L465.25 189.1 L466.75 189.1 L466.75 410.5 Z" fill="#ffc000"/>
<path d="M466.0 410.5 L466.0 183.3 L471.0 183.3 L471.0 410.5 Z" fill="#92d050"/>
<path d="M470.25 410.5 L470.25 189.1 L471.75 189.1 L471.75 410.5 Z" fill="#92d050"/>
<path d="M471.0 410.5 L471.0 188.8 L473.0 188.8 L473.0 410.5 Z" fill="#ffc000"/>
<path d="M472.25 410.5 L472.25 189.1 L473.75 189.1 L473.75 410.5 Z" fill="#ffc000"/>
<path d="M473.0 410.5 L473.0 183.3 L477.1 183.3 L477.1 180.6 L478.0 180.6 L478.0 183.3 L479.7 183.3 L479.7 180.6 L481.6 180.6 L481.6 177.9 L486.8 177.9 L486.8 180.6 L489.4 180.6 L489.4 183.3 L493.7 183.3 L493.7 410.5 Z" fill="#92d050"/>
<path d="M492.95 410.5 L492.95 189.1 L494.45 189.1 L494.45 410.5 Z" fill="#92d050"/>
<path d="M493.7 410.5 L493.7 188.8 L497.4 188.8 L497.4 194.2 L505.8 194.2 L505.8 188.8 L510.8 188.8 L510.8 410.5 Z" fill="#ffc000"/>
<path d="M510.05 410.5 L510.05 189.1 L511.55 189.1 L511.55 410.5 Z" fill="#ffc000"/>
<path d="M510.8 410.5 L510.8 183.3 L520.3 183.3 L520.3 410.5 Z" fill="#92d050"/>
<path d="M519.55 410.5 L519.55 189.1 L521.05 189.1 L521.05 410.5 Z" fill="#92d050"/>
<path d="M520.3 410.5 L520.3 188.8 L520.8 188.8 L520.8 410.5 Z" fill="#ffc000"/>
<path d="M520.30 410.5 L520.30 189.1 L521.55 189.1 L521.55 410.5 Z" fill="#ffc000"/>
<path d="M520.8 410.5 L520.8 183.3 L522.8 183.3 L522.8 410.5 Z" fill="#92d050"/>
<path d="M522.05 410.5 L522.05 189.1 L523.55 189.1 L523.55 410.5 Z" fill="#92d050"/>
<path d="M522.8 410.5 L522.8 188.8 L523.3 188.8 L523.3 410.5 Z" fill="#ffc000"/>
<path d="M522.80 410.5 L522.80 189.1 L524.05 189.1 L524.05 410.5 Z" fill="#ffc000"/>
<path d="M523.3 410.5 L523.3 183.3 L524.8 183.3 L524.8 180.6 L526.8 180.6 L526.8 177.9 L528.4 177.9 L528.4 180.6 L531.6 180.6 L531.6 177.9 L534.0 177.9 L534.0 175.2 L535.0 175.2 L535.0 177.9 L537.3 177.9 L537.3 172.5 L547.4 172.5 L547.4 410.5 Z" fill="#92d050"/>
<path d="M546.65 410.5 L546.65 197.2 L548.15 197.2 L548.15 410.5 Z" fill="#92d050"/>
<path d="M547.4 410.5 L547.4 196.9 L548.7 196.9 L548.7 410.5 Z" fill="#ffc000"/>
<path d="M547.95 410.5 L547.95 206.7 L549.45 206.7 L549.45 410.5 Z" fill="#ffc000"/>
<path d="M548.7 410.5 L548.7 206.4 L550.0 206.4 L550.0 207.0 L550.1 207.0 L550.1 212.6 L550.2 212.6 L550.2 222.4 L550.3 222.4 L550.3 232.2 L550.4 232.2 L550.4 241.9 L550.5 241.9 L550.5 251.7 L550.6 251.7 L550.6 261.5 L550.7 261.5 L550.7 271.3 L550.8 271.3 L550.8 281.1 L550.9 281.1 L550.9 290.8 L551.0 290.8 L551.0 295.8 L551.1 295.8 L551.1 295.8 L551.2 295.8 L551.2 295.9 L551.3 295.9 L551.3 296.0 L551.4 296.0 L551.4 296.0 L551.5 296.0 L551.5 296.1 L551.6 296.1 L551.6 296.2 L551.7 296.2 L551.7 296.2 L551.8 296.2 L551.8 296.3 L551.9 296.3 L551.9 296.4 L552.0 296.4 L552.0 296.4 L552.1 296.4 L552.1 296.5 L552.2 296.5 L552.2 296.6 L552.3 296.6 L552.3 296.6 L552.4 296.6 L552.4 296.7 L552.5 296.7 L552.5 296.8 L552.6 296.8 L552.6 296.8 L552.7 296.8 L552.7 296.9 L552.8 296.9 L552.8 297.0 L552.9 297.0 L552.9 297.1 L553.0 297.1 L553.0 297.3 L553.1 297.3 L553.1 297.8 L553.2 297.8 L553.2 298.2 L553.3 298.2 L553.3 298.7 L553.4 298.7 L553.4 299.1 L553.5 299.1 L553.5 299.6 L553.6 299.6 L553.6 300.0 L553.7 300.0 L553.7 300.5 L553.8 300.5 L553.8 300.9 L553.9 300.9 L553.9 301.4 L554.0 301.4 L554.0 301.8 L554.1 301.8 L554.1 302.3 L554.2 302.3 L554.2 302.7 L554.3 302.7 L554.3 303.1 L554.4 303.1 L554.4 303.5 L554.5 303.5 L554.5 303.9 L554.6 303.9 L554.6 304.3 L554.7 304.3 L554.7 304.7 L554.8 304.7 L554.8 305.1 L554.9 305.1 L554.9 305.5 L555.0 305.5 L555.0 305.9 L555.1 305.9 L555.1 306.3 L555.2 306.3 L555.2 306.7 L555.3 306.7 L555.3 307.1 L555.4 307.1 L555.4 307.4 L555.5 307.4 L555.5 307.8 L555.6 307.8 L555.6 308.2 L555.7 308.2 L555.7 308.6 L555.8 308.6 L555.8 309.0 L555.9 309.0 L555.9 309.4 L556.0 309.4 L556.0 309.8 L556.1 309.8 L556.1 310.2 L556.2 310.2 L556.2 310.6 L556.3 310.6 L556.3 311.0 L556.4 311.0 L556.4 311.4 L556.5 311.4 L556.5 311.8 L556.6 311.8 L556.6 312.2 L556.7 312.2 L556.7 312.6 L556.8 312.6 L556.8 312.6 L556.9 312.6 L556.9 312.4 L557.0 312.4 L557.0 312.1 L557.1 312.1 L557.1 311.8 L557.2 311.8 L557.2 311.5 L557.3 311.5 L557.3 311.2 L557.4 311.2 L557.4 310.9 L557.5 310.9 L557.5 310.6 L557.6 310.6 L557.6 310.3 L557.7 310.3 L557.7 310.0 L557.8 310.0 L557.8 309.7 L557.9 309.7 L557.9 309.4 L558.0 309.4 L558.0 309.5 L558.1 309.5 L558.1 310.1 L558.2 310.1 L558.2 310.6 L558.3 310.6 L558.3 311.2 L558.4 311.2 L558.4 311.7 L558.5 311.7 L558.5 312.2 L558.6 312.2 L558.6 312.8 L558.7 312.8 L558.7 313.3 L558.8 313.3 L558.8 313.9 L558.9 313.9 L558.9 314.4 L559.0 314.4 L559.0 314.5 L559.1 314.5 L559.1 314.1 L559.2 314.1 L559.2 313.8 L559.3 313.8 L559.3 313.4 L559.4 313.4 L559.4 313.1 L559.5 313.1 L559.5 312.7 L559.6 312.7 L559.6 312.3 L559.7 312.3 L559.7 312.0 L559.8 312.0 L559.8 311.6 L559.9 311.6 L559.9 311.3 L560.0 311.3 L560.0 310.9 L560.1 310.9 L560.1 310.5 L560.2 310.5 L560.2 310.2 L560.3 310.2 L560.3 309.8 L560.4 309.8 L560.4 309.5 L560.5 309.5 L560.5 309.4 L560.6 309.4 L560.6 309.7 L560.7 309.7 L560.7 309.9 L560.8 309.9 L560.8 310.2 L560.9 310.2 L560.9 310.5 L561.0 310.5 L561.0 310.8 L561.1 310.8 L561.1 311.0 L561.2 311.0 L561.2 311.3 L561.3 311.3 L561.3 311.6 L561.4 311.6 L561.4 311.8 L561.5 311.8 L561.5 312.1 L561.6 312.1 L561.6 312.4 L561.7 312.4 L561.7 312.7 L561.8 312.7 L561.8 312.9 L561.9 312.9 L561.9 313.2 L562.0 313.2 L562.0 313.3 L562.1 313.3 L562.1 313.1 L562.2 313.1 L562.2 313.0 L562.3 313.0 L562.3 312.8 L562.4 312.8 L562.4 312.7 L562.5 312.7 L562.5 312.5 L562.6 312.5 L562.6 312.4 L562.7 312.4 L562.7 312.2 L562.8 312.2 L562.8 312.1 L562.9 312.1 L562.9 311.9 L563.0 311.9 L563.0 311.8 L563.1 311.8 L563.1 311.6 L563.2 311.6 L563.2 311.5 L563.3 311.5 L563.3 311.3 L563.4 311.3 L563.4 311.2 L563.5 311.2 L563.5 311.0 L563.6 311.0 L563.6 310.8 L563.7 310.8 L563.7 310.7 L563.8 310.7 L563.8 309.6 L563.9 309.6 L563.9 307.5 L564.0 307.5 L564.0 305.5 L564.1 305.5 L564.1 303.4 L564.2 303.4 L564.2 301.4 L564.3 301.4 L564.3 299.3 L564.4 299.3 L564.4 297.3 L564.5 297.3 L564.5 297.2 L564.6 297.2 L564.6 299.1 L564.7 299.1 L564.7 300.9 L564.8 300.9 L564.8 302.8 L564.9 302.8 L564.9 304.6 L565.0 304.6 L565.0 306.5 L565.1 306.5 L565.1 308.3 L565.2 308.3 L565.2 309.3 L567.2 309.3 L567.2 308.2 L567.3 308.2 L567.3 306.0 L567.4 306.0 L567.4 303.9 L567.5 303.9 L567.5 301.7 L567.6 301.7 L567.6 299.5 L567.7 299.5 L567.7 297.4 L567.8 297.4 L567.8 297.2 L567.9 297.2 L567.9 299.2 L568.0 299.2 L568.0 301.1 L568.1 301.1 L568.1 303.1 L568.2 303.1 L568.2 305.0 L568.3 305.0 L568.3 306.9 L568.4 306.9 L568.4 307.8 L568.5 307.8 L568.5 307.7 L568.6 307.7 L568.6 307.5 L568.7 307.5 L568.7 307.3 L568.8 307.3 L568.8 307.2 L568.9 307.2 L568.9 307.0 L569.0 307.0 L569.0 306.8 L569.1 306.8 L569.1 306.6 L569.2 306.6 L569.2 306.5 L569.3 306.5 L569.3 306.3 L569.4 306.3 L569.4 306.1 L569.5 306.1 L569.5 306.0 L569.6 306.0 L569.6 305.8 L569.7 305.8 L569.7 305.6 L569.8 305.6 L569.8 305.5 L569.9 305.5 L569.9 305.3 L570.0 305.3 L570.0 305.4 L570.1 305.4 L570.1 305.8 L570.2 305.8 L570.2 306.2 L570.3 306.2 L570.3 306.6 L570.4 306.6 L570.4 307.0 L570.5 307.0 L570.5 307.4 L570.6 307.4 L570.6 307.8 L570.7 307.8 L570.7 308.3 L570.8 308.3 L570.8 308.7 L570.9 308.7 L570.9 309.1 L571.0 309.1 L571.0 309.2 L571.1 309.2 L571.1 309.1 L571.2 309.1 L571.2 309.0 L571.3 309.0 L571.3 308.9 L571.4 308.9 L571.4 308.8 L571.5 308.8 L571.5 308.6 L571.6 308.6 L571.6 308.5 L571.7 308.5 L571.7 308.4 L571.8 308.4 L571.8 308.3 L571.9 308.3 L571.9 308.2 L572.0 308.2 L572.0 308.1 L572.1 308.1 L572.1 308.0 L572.2 308.0 L572.2 300.1 L572.3 300.1 L572.3 291.4 L572.4 291.4 L572.4 289.7 L572.5 289.7 L572.5 288.0 L572.6 288.0 L572.6 286.3 L572.7 286.3 L572.7 284.6 L572.8 284.6 L572.8 282.9 L572.9 282.9 L572.9 281.2 L573.0 281.2 L573.0 279.6 L573.1 279.6 L573.1 277.9 L573.2 277.9 L573.2 276.2 L573.3 276.2 L573.3 274.5 L573.4 274.5 L573.4 272.8 L573.5 272.8 L573.5 271.1 L573.6 271.1 L573.6 269.2 L573.7 269.2 L573.7 267.1 L573.8 267.1 L573.8 264.9 L573.9 264.9 L573.9 262.8 L574.0 262.8 L574.0 260.6 L574.1 260.6 L574.1 258.5 L574.2 258.5 L574.2 256.3 L574.3 256.3 L574.3 254.2 L574.4 254.2 L574.4 252.0 L574.5 252.0 L574.5 249.9 L574.6 249.9 L574.6 247.7 L574.7 247.7 L574.7 245.6 L574.8 245.6 L574.8 243.4 L574.9 243.4 L574.9 241.3 L575.0 241.3 L575.0 239.3 L575.1 239.3 L575.1 237.4 L575.2 237.4 L575.2 235.5 L575.3 235.5 L575.3 233.6 L575.4 233.6 L575.4 231.7 L575.5 231.7 L575.5 229.8 L575.6 229.8 L575.6 227.9 L575.7 227.9 L575.7 226.0 L575.8 226.0 L575.8 224.1 L575.9 224.1 L575.9 222.2 L576.0 222.2 L576.0 220.3 L576.1 220.3 L576.1 218.4 L576.2 218.4 L576.2 216.5 L576.3 216.5 L576.3 214.6 L576.4 214.6 L576.4 212.7 L576.5 212.7 L576.5 210.8 L576.6 210.8 L576.6 208.9 L576.7 208.9 L576.7 207.0 L576.8 207.0 L576.8 410.5 Z" fill="#d9d9d9"/>
<path d="M576.05 410.5 L576.05 207.3 L577.55 207.3 L577.55 410.5 Z" fill="#d9d9d9"/>
<path d="M576.8 410.5 L576.8 203.7 L576.9 203.7 L576.9 202.7 L577.0 202.7 L577.0 201.7 L577.1 201.7 L577.1 200.7 L577.2 200.7 L577.2 199.7 L577.3 199.7 L577.3 198.7 L577.4 198.7 L577.4 197.7 L577.5 197.7 L577.5 196.7 L577.6 196.7 L577.6 195.7 L577.7 195.7 L577.7 194.7 L577.8 194.7 L577.8 194.4 L577.9 194.4 L577.9 194.9 L578.0 194.9 L578.0 195.4 L578.1 195.4 L578.1 195.8 L578.2 195.8 L578.2 196.3 L578.3 196.3 L578.3 196.8 L578.4 196.8 L578.4 197.3 L578.5 197.3 L578.5 197.7 L578.6 197.7 L578.6 197.7 L578.7 197.7 L578.7 197.0 L578.8 197.0 L578.8 196.4 L578.9 196.4 L578.9 195.8 L579.0 195.8 L579.0 195.1 L579.1 195.1 L579.1 194.5 L579.2 194.5 L579.2 194.3 L579.3 194.3 L579.3 194.7 L579.4 194.7 L579.4 195.0 L579.5 195.0 L579.5 195.4 L579.6 195.4 L579.6 195.7 L579.7 195.7 L579.7 196.0 L579.8 196.0 L579.8 196.4 L579.9 196.4 L579.9 196.7 L580.0 196.7 L580.0 195.5 L581.9 195.5 L581.9 410.5 Z" fill="#ffc000"/>
<path d="M581.15 410.5 L581.15 195.8 L582.65 195.8 L582.65 410.5 Z" fill="#ffc000"/>
<path d="M581.9 410.5 L581.9 185.8 L582.0 185.8 L582.0 185.4 L582.1 185.4 L582.1 185.0 L582.2 185.0 L582.2 184.6 L582.3 184.6 L582.3 184.2 L582.4 184.2 L582.4 183.8 L582.5 183.8 L582.5 183.3 L582.6 183.3 L582.6 182.9 L582.7 182.9 L582.7 182.5 L582.8 182.5 L582.8 182.1 L582.9 182.1 L582.9 181.7 L583.0 181.7 L583.0 181.3 L583.1 181.3 L583.1 180.8 L583.3 180.8 L583.3 181.3 L583.4 181.3 L583.4 181.7 L583.5 181.7 L583.5 182.1 L583.6 182.1 L583.6 182.5 L583.7 182.5 L583.7 182.9 L583.8 182.9 L583.8 183.3 L583.9 183.3 L583.9 183.8 L584.0 183.8 L584.0 184.2 L584.1 184.2 L584.1 184.6 L584.2 184.6 L584.2 185.0 L584.3 185.0 L584.3 185.4 L584.4 185.4 L584.4 185.8 L584.5 185.8 L584.5 410.5 Z" fill="#92d050"/>
<path d="M583.75 410.5 L583.75 187.7 L585.25 187.7 L585.25 410.5 Z" fill="#92d050"/>
<path d="M584.5 410.5 L584.5 187.4 L584.6 187.4 L584.6 188.8 L586.8 188.8 L586.8 410.5 Z" fill="#ffc000"/>
<path d="M586.05 410.5 L586.05 189.1 L587.55 189.1 L587.55 410.5 Z" fill="#ffc000"/>
<path d="M586.8 410.5 L586.8 185.8 L586.9 185.8 L586.9 185.2 L587.0 185.2 L587.0 184.7 L587.1 184.7 L587.1 184.1 L587.2 184.1 L587.2 183.6 L587.3 183.6 L587.3 183.0 L587.4 183.0 L587.4 182.5 L587.5 182.5 L587.5 181.9 L587.6 181.9 L587.6 181.4 L587.7 181.4 L587.7 180.8 L587.8 180.8 L587.8 180.3 L587.9 180.3 L587.9 179.7 L588.0 179.7 L588.0 179.2 L588.1 179.2 L588.1 178.6 L588.2 178.6 L588.2 178.1 L588.3 178.1 L588.3 177.5 L588.4 177.5 L588.4 176.9 L588.5 176.9 L588.5 176.4 L588.6 176.4 L588.6 175.8 L588.7 175.8 L588.7 175.3 L588.8 175.3 L588.8 174.7 L588.9 174.7 L588.9 174.2 L589.0 174.2 L589.0 173.6 L589.1 173.6 L589.1 173.1 L589.2 173.1 L589.2 172.5 L589.3 172.5 L589.3 172.0 L589.5 172.0 L589.5 172.5 L589.6 172.5 L589.6 173.0 L589.7 173.0 L589.7 173.5 L589.8 173.5 L589.8 174.0 L589.9 174.0 L589.9 174.5 L590.0 174.5 L590.0 175.0 L590.1 175.0 L590.1 175.5 L590.2 175.5 L590.2 176.0 L590.3 176.0 L590.3 176.5 L590.4 176.5 L590.4 177.0 L590.5 177.0 L590.5 177.5 L590.6 177.5 L590.6 178.0 L590.7 178.0 L590.7 178.5 L590.8 178.5 L590.8 179.0 L590.9 179.0 L590.9 179.6 L591.0 179.6 L591.0 180.1 L591.1 180.1 L591.1 180.6 L591.2 180.6 L591.2 181.1 L591.3 181.1 L591.3 181.6 L591.4 181.6 L591.4 182.1 L591.5 182.1 L591.5 182.6 L591.6 182.6 L591.6 183.1 L591.7 183.1 L591.7 182.9 L591.8 182.9 L591.8 181.9 L591.9 181.9 L591.9 180.9 L592.0 180.9 L592.0 179.9 L592.1 179.9 L592.1 178.9 L592.2 178.9 L592.2 178.0 L592.3 178.0 L592.3 177.0 L592.4 177.0 L592.4 176.0 L592.5 176.0 L592.5 175.0 L592.6 175.0 L592.6 174.1 L592.7 174.1 L592.7 173.1 L592.8 173.1 L592.8 172.1 L592.9 172.1 L592.9 171.1 L593.0 171.1 L593.0 170.1 L593.1 170.1 L593.1 169.2 L593.2 169.2 L593.2 168.2 L593.3 168.2 L593.3 167.2 L593.4 167.2 L593.4 166.2 L593.5 166.2 L593.5 165.2 L593.6 165.2 L593.6 164.3 L593.7 164.3 L593.7 163.3 L593.8 163.3 L593.8 162.3 L593.9 162.3 L593.9 161.3 L594.0 161.3 L594.0 160.4 L594.1 160.4 L594.1 159.4 L594.2 159.4 L594.2 158.4 L594.3 158.4 L594.3 157.4 L594.4 157.4 L594.4 156.4 L594.5 156.4 L594.5 155.5 L594.6 155.5 L594.6 154.5 L594.7 154.5 L594.7 153.5 L594.9 153.5 L594.9 154.5 L595.0 154.5 L595.0 155.5 L595.1 155.5 L595.1 156.5 L595.2 156.5 L595.2 157.5 L595.3 157.5 L595.3 158.5 L595.4 158.5 L595.4 159.5 L595.5 159.5 L595.5 160.5 L595.6 160.5 L595.6 161.5 L595.7 161.5 L595.7 162.5 L595.8 162.5 L595.8 163.5 L595.9 163.5 L595.9 164.5 L596.0 164.5 L596.0 165.5 L596.1 165.5 L596.1 166.5 L596.2 166.5 L596.2 167.5 L596.3 167.5 L596.3 168.5 L596.4 168.5 L596.4 169.5 L596.5 169.5 L596.5 170.5 L596.6 170.5 L596.6 171.5 L596.7 171.5 L596.7 172.5 L596.8 172.5 L596.8 173.5 L596.9 173.5 L596.9 174.5 L597.0 174.5 L597.0 175.5 L597.1 175.5 L597.1 176.5 L597.2 176.5 L597.2 177.5 L597.3 177.5 L597.3 178.5 L597.5 178.5 L597.5 177.4 L597.6 177.4 L597.6 176.4 L597.7 176.4 L597.7 175.3 L597.8 175.3 L597.8 174.3 L597.9 174.3 L597.9 173.2 L598.0 173.2 L598.0 172.2 L598.1 172.2 L598.1 171.1 L598.2 171.1 L598.2 170.1 L598.3 170.1 L598.3 169.0 L598.4 169.0 L598.4 167.9 L598.5 167.9 L598.5 166.9 L598.6 166.9 L598.6 165.8 L598.7 165.8 L598.7 164.8 L598.8 164.8 L598.8 163.7 L598.9 163.7 L598.9 162.7 L599.0 162.7 L599.0 161.6 L599.1 161.6 L599.1 160.6 L599.2 160.6 L599.2 159.5 L599.3 159.5 L599.3 158.5 L599.4 158.5 L599.4 157.4 L599.5 157.4 L599.5 156.4 L599.6 156.4 L599.6 155.3 L599.7 155.3 L599.7 154.2 L599.8 154.2 L599.8 153.2 L599.9 153.2 L599.9 152.1 L600.0 152.1 L600.0 151.1 L600.1 151.1 L600.1 150.0 L600.2 150.0 L600.2 149.4 L600.3 149.4 L600.3 149.3 L600.4 149.3 L600.4 149.2 L600.5 149.2 L600.5 149.0 L600.6 149.0 L600.6 148.9 L600.7 148.9 L600.7 148.8 L600.8 148.8 L600.8 148.6 L600.9 148.6 L600.9 148.5 L601.1 148.5 L601.1 148.6 L601.2 148.6 L601.2 148.8 L601.3 148.8 L601.3 148.9 L601.4 148.9 L601.4 149.0 L601.5 149.0 L601.5 149.2 L601.6 149.2 L601.6 149.3 L601.7 149.3 L601.7 149.4 L601.8 149.4 L601.8 150.1 L601.9 150.1 L601.9 151.3 L602.0 151.3 L602.0 152.5 L602.1 152.5 L602.1 153.7 L602.2 153.7 L602.2 154.9 L602.3 154.9 L602.3 156.2 L602.4 156.2 L602.4 157.4 L602.5 157.4 L602.5 158.6 L602.6 158.6 L602.6 159.8 L602.7 159.8 L602.7 161.0 L602.8 161.0 L602.8 162.2 L602.9 162.2 L602.9 163.4 L603.0 163.4 L603.0 164.6 L603.1 164.6 L603.1 165.9 L603.2 165.9 L603.2 167.1 L603.3 167.1 L603.3 168.3 L603.4 168.3 L603.4 169.5 L603.5 169.5 L603.5 170.7 L603.6 170.7 L603.6 171.9 L603.7 171.9 L603.7 173.0 L603.8 173.0 L603.8 174.1 L603.9 174.1 L603.9 175.1 L604.0 175.1 L604.0 176.2 L604.1 176.2 L604.1 177.2 L604.2 177.2 L604.2 178.2 L604.3 178.2 L604.3 179.3 L604.4 179.3 L604.4 180.3 L604.5 180.3 L604.5 181.4 L604.6 181.4 L604.6 182.4 L604.7 182.4 L604.7 183.5 L604.8 183.5 L604.8 184.5 L604.9 184.5 L604.9 185.5 L605.0 185.5 L605.0 410.5 Z" fill="#92d050"/>
<path d="M604.25 410.5 L604.25 187.7 L605.75 187.7 L605.75 410.5 Z" fill="#92d050"/>
<path d="M605.0 410.5 L605.0 187.4 L605.1 187.4 L605.1 189.3 L605.2 189.3 L605.2 191.1 L605.3 191.1 L605.3 193.0 L605.4 193.0 L605.4 194.8 L605.5 194.8 L605.5 196.7 L605.6 196.7 L605.6 198.5 L605.7 198.5 L605.7 200.4 L605.8 200.4 L605.8 202.2 L605.9 202.2 L605.9 204.1 L606.0 204.1 L606.0 410.5 Z" fill="#ffc000"/>
<path d="M605.25 410.5 L605.25 206.7 L606.75 206.7 L606.75 410.5 Z" fill="#ffc000"/>
<path d="M606.0 410.5 L606.0 206.4 L606.1 206.4 L606.1 207.4 L606.2 207.4 L606.2 208.5 L606.3 208.5 L606.3 209.5 L606.4 209.5 L606.4 210.6 L606.5 210.6 L606.5 211.6 L606.6 211.6 L606.6 212.7 L606.7 212.7 L606.7 213.7 L606.8 213.7 L606.8 214.8 L606.9 214.8 L606.9 215.8 L607.0 215.8 L607.0 216.9 L607.1 216.9 L607.1 217.9 L607.2 217.9 L607.2 219.0 L607.3 219.0 L607.3 220.0 L607.4 220.0 L607.4 221.1 L607.5 221.1 L607.5 222.1 L607.6 222.1 L607.6 223.2 L607.7 223.2 L607.7 224.2 L607.8 224.2 L607.8 225.3 L607.9 225.3 L607.9 226.3 L608.0 226.3 L608.0 227.4 L608.1 227.4 L608.1 228.4 L608.2 228.4 L608.2 229.5 L608.3 229.5 L608.3 230.5 L608.4 230.5 L608.4 231.6 L608.5 231.6 L608.5 232.7 L608.6 232.7 L608.6 233.9 L608.7 233.9 L608.7 235.2 L608.8 235.2 L608.8 236.4 L608.9 236.4 L608.9 237.7 L609.0 237.7 L609.0 238.9 L609.1 238.9 L609.1 240.1 L609.2 240.1 L609.2 241.4 L609.3 241.4 L609.3 242.6 L609.4 242.6 L609.4 243.8 L609.5 243.8 L609.5 245.1 L609.6 245.1 L609.6 246.3 L609.7 246.3 L609.7 247.5 L609.8 247.5 L609.8 248.8 L609.9 248.8 L609.9 250.0 L610.0 250.0 L610.0 251.3 L610.1 251.3 L610.1 252.5 L610.2 252.5 L610.2 253.7 L610.3 253.7 L610.3 255.0 L610.4 255.0 L610.4 256.2 L610.5 256.2 L610.5 257.4 L610.6 257.4 L610.6 258.7 L610.7 258.7 L610.7 259.9 L610.8 259.9 L610.8 260.8 L610.9 260.8 L610.9 261.2 L611.0 261.2 L611.0 261.7 L611.1 261.7 L611.1 262.1 L611.2 262.1 L611.2 262.6 L611.3 262.6 L611.3 263.0 L611.4 263.0 L611.4 263.5 L611.5 263.5 L611.5 263.9 L611.6 263.9 L611.6 264.4 L611.7 264.4 L611.7 410.5 Z" fill="#d9d9d9"/>
<rect x="27.3" y="411" width="584.4" height="3" fill="#7f7f7f"/>
<line x1="27.3" x2="611.9" y1="91.28" y2="91.28" stroke="#000" stroke-width="1.9"/>
<text x="29.9" y="87.3" font-size="9.4" fill="#000" stroke="#000" stroke-width="0.15" textLength="11.3" lengthAdjust="spacingAndGlyphs">AN</text>
<line x1="27.3" x2="611.9" y1="129.19" y2="129.19" stroke="#000" stroke-width="1.9"/>
<text x="29.9" y="125.2" font-size="9.4" fill="#000" stroke="#000" stroke-width="0.15" textLength="10.0" lengthAdjust="spacingAndGlyphs">TR</text>
<line x1="27.3" x2="611.9" y1="148.14" y2="148.14" stroke="#000" stroke-width="1.9"/>
<text x="29.9" y="144.1" font-size="9.4" fill="#000" stroke="#000" stroke-width="0.15" textLength="9.0" lengthAdjust="spacingAndGlyphs">AT</text>
<line x1="27.3" x2="611.9" y1="186.06" y2="186.06" stroke="#000" stroke-width="1.9"/>
<text x="29.9" y="182.1" font-size="9.4" fill="#000" stroke="#000" stroke-width="0.15" textLength="15.8" lengthAdjust="spacingAndGlyphs">UT1</text>
<line x1="27.3" x2="611.9" y1="205.01" y2="205.01" stroke="#000" stroke-width="1.9"/>
<text x="29.9" y="201.0" font-size="9.4" fill="#000" stroke="#000" stroke-width="0.15" textLength="16.0" lengthAdjust="spacingAndGlyphs">UT2</text>
<path d="M600 410.5 L600 151 L600.5 144.8 L601.6 144.8 L602 151 L602 410.5 Z" fill="#00b0f0" fill-opacity="0.45"/>
<text x="10.3" y="413.6" font-size="8.8" fill="#111" stroke="#111" stroke-width="0.15" textLength="8.9" lengthAdjust="spacingAndGlyphs">60</text>
<text x="10.3" y="359.4" font-size="8.8" fill="#111" stroke="#111" stroke-width="0.15" textLength="8.9" lengthAdjust="spacingAndGlyphs">80</text>
<text x="5.8" y="305.3" font-size="8.8" fill="#111" stroke="#111" stroke-width="0.15" textLength="13.4" lengthAdjust="spacingAndGlyphs">100</text>
<text x="5.8" y="251.5" font-size="8.8" fill="#111" stroke="#111" stroke-width="0.15" textLength="13.4" lengthAdjust="spacingAndGlyphs">120</text>
<text x="5.8" y="197.6" font-size="8.8" fill="#111" stroke="#111" stroke-width="0.15" textLength="13.4" lengthAdjust="spacingAndGlyphs">140</text>
<text x="5.8" y="143.1" font-size="8.8" fill="#111" stroke="#111" stroke-width="0.15" textLength="13.4" lengthAdjust="spacingAndGlyphs">160</text>
<text x="5.8" y="89.1" font-size="8.8" fill="#111" stroke="#111" stroke-width="0.15" textLength="13.4" lengthAdjust="spacingAndGlyphs">180</text>
<text x="5.8" y="34.6" font-size="8.8" fill="#111" stroke="#111" stroke-width="0.15" textLength="13.4" lengthAdjust="spacingAndGlyphs">200</text>
<text transform="translate(31.1 443.7) rotate(-90)" font-size="8.8" fill="#111" stroke="#111" stroke-width="0.15" textLength="26.8" lengthAdjust="spacingAndGlyphs">00:01.0</text>
<text transform="translate(42.4 443.7) rotate(-90)" font-size="8.8" fill="#111" stroke="#111" stroke-width="0.15" textLength="26.8" lengthAdjust="spacingAndGlyphs">01:55.0</text>
<text transform="translate(53.7 443.7) rotate(-90)" font-size="8.8" fill="#111" stroke="#111" stroke-width="0.15" textLength="26.8" lengthAdjust="spacingAndGlyphs">03:49.0</text>
<text transform="translate(65.0 443.7) rotate(-90)" font-size="8.8" fill="#111" stroke="#111" stroke-width="0.15" textLength="26.8" lengthAdjust="spacingAndGlyphs">05:43.0</text>
<text transform="translate(76.3 443.7) rotate(-90)" font-size="8.8" fill="#111" stroke="#111" stroke-width="0.15" textLength="26.8" lengthAdjust="spacingAndGlyphs">07:37.0</text>
<text transform="translate(87.6 443.7) rotate(-90)" font-size="8.8" fill="#111" stroke="#111" stroke-width="0.15" textLength="26.8" lengthAdjust="spacingAndGlyphs">09:31.0</text>
<text transform="translate(98.9 443.7) rotate(-90)" font-size="8.8" fill="#111" stroke="#111" stroke-width="0.15" textLength="26.8" lengthAdjust="spacingAndGlyphs">11:25.0</text>
<text transform="translate(110.3 443.7) rotate(-90)" font-size="8.8" fill="#111" stroke="#111" stroke-width="0.15" textLength="26.8" lengthAdjust="spacingAndGlyphs">13:19.0</text>
<text transform="translate(121.6 443.7) rotate(-90)" font-size="8.8" fill="#111" stroke="#111" stroke-width="0.15" textLength="26.8" lengthAdjust="spacingAndGlyphs">15:13.0</text>
<text transform="translate(132.9 443.7) rotate(-90)" font-size="8.8" fill="#111" stroke="#111" stroke-width="0.15" textLength="26.8" lengthAdjust="spacingAndGlyphs">17:07.0</text>
<text transform="translate(144.2 443.7) rotate(-90)" font-size="8.8" fill="#111" stroke="#111" stroke-width="0.15" textLength="26.8" lengthAdjust="spacingAndGlyphs">19:01.0</text>
<text transform="translate(155.5 443.7) rotate(-90)" font-size="8.8" fill="#111" stroke="#111" stroke-width="0.15" textLength="26.8" lengthAdjust="spacingAndGlyphs">20:55.0</text>
<text transform="translate(166.8 443.7) rotate(-90)" font-size="8.8" fill="#111" stroke="#111" stroke-width="0.15" textLength="26.8" lengthAdjust="spacingAndGlyphs">22:49.0</text>
<text transform="translate(178.1 443.7) rotate(-90)" font-size="8.8" fill="#111" stroke="#111" stroke-width="0.15" textLength="26.8" lengthAdjust="spacingAndGlyphs">24:43.0</text>
<text transform="translate(189.4 443.7) rotate(-90)" font-size="8.8" fill="#111" stroke="#111" stroke-width="0.15" textLength="26.8" lengthAdjust="spacingAndGlyphs">26:37.0</text>
<text transform="translate(200.7 443.7) rotate(-90)" font-size="8.8" fill="#111" stroke="#111" stroke-width="0.15" textLength="26.8" lengthAdjust="spacingAndGlyphs">28:31.0</text>
<text transform="translate(212.0 443.7) rotate(-90)" font-size="8.8" fill="#111" stroke="#111" stroke-width="0.15" textLength="26.8" lengthAdjust="spacingAndGlyphs">30:25.0</text>
<text transform="translate(223.3 443.7) rotate(-90)" font-size="8.8" fill="#111" stroke="#111" stroke-width="0.15" textLength="26.8" lengthAdjust="spacingAndGlyphs">32:19.0</text>
<text transform="translate(234.6 443.7) rotate(-90)" font-size="8.8" fill="#111" stroke="#111" stroke-width="0.15" textLength="26.8" lengthAdjust="spacingAndGlyphs">34:13.0</text>
<text transform="translate(246.0 443.7) rotate(-90)" font-size="8.8" fill="#111" stroke="#111" stroke-width="0.15" textLength="26.8" lengthAdjust="spacingAndGlyphs">36:07.0</text>
<text transform="translate(257.3 443.7) rotate(-90)" font-size="8.8" fill="#111" stroke="#111" stroke-width="0.15" textLength="26.8" lengthAdjust="spacingAndGlyphs">38:01.0</text>
<text transform="translate(268.6 443.7) rotate(-90)" font-size="8.8" fill="#111" stroke="#111" stroke-width="0.15" textLength="26.8" lengthAdjust="spacingAndGlyphs">39:55.0</text>
<text transform="translate(279.9 443.7) rotate(-90)" font-size="8.8" fill="#111" stroke="#111" stroke-width="0.15" textLength="26.8" lengthAdjust="spacingAndGlyphs">41:49.0</text>
<text transform="translate(291.2 443.7) rotate(-90)" font-size="8.8" fill="#111" stroke="#111" stroke-width="0.15" textLength="26.8" lengthAdjust="spacingAndGlyphs">43:43.0</text>
<text transform="translate(302.5 443.7) rotate(-90)" font-size="8.8" fill="#111" stroke="#111" stroke-width="0.15" textLength="26.8" lengthAdjust="spacingAndGlyphs">45:37.0</text>
<text transform="translate(313.8 443.7) rotate(-90)" font-size="8.8" fill="#111" stroke="#111" stroke-width="0.15" textLength="26.8" lengthAdjust="spacingAndGlyphs">47:31.0</text>
<text transform="translate(325.1 443.7) rotate(-90)" font-size="8.8" fill="#111" stroke="#111" stroke-width="0.15" textLength="26.8" lengthAdjust="spacingAndGlyphs">49:25.0</text>
<text transform="translate(336.4 443.7) rotate(-90)" font-size="8.8" fill="#111" stroke="#111" stroke-width="0.15" textLength="26.8" lengthAdjust="spacingAndGlyphs">51:19.0</text>
<text transform="translate(347.7 443.7) rotate(-90)" font-size="8.8" fill="#111" stroke="#111" stroke-width="0.15" textLength="26.8" lengthAdjust="spacingAndGlyphs">53:13.0</text>
<text transform="translate(359.0 443.7) rotate(-90)" font-size="8.8" fill="#111" stroke="#111" stroke-width="0.15" textLength="26.8" lengthAdjust="spacingAndGlyphs">55:07.0</text>
<text transform="translate(370.3 443.7) rotate(-90)" font-size="8.8" fill="#111" stroke="#111" stroke-width="0.15" textLength="26.8" lengthAdjust="spacingAndGlyphs">57:01.0</text>
<text transform="translate(381.6 443.7) rotate(-90)" font-size="8.8" fill="#111" stroke="#111" stroke-width="0.15" textLength="26.8" lengthAdjust="spacingAndGlyphs">58:55.0</text>
<text transform="translate(393.0 443.7) rotate(-90)" font-size="8.8" fill="#111" stroke="#111" stroke-width="0.15" textLength="26.8" lengthAdjust="spacingAndGlyphs">00:49.0</text>
<text transform="translate(404.3 443.7) rotate(-90)" font-size="8.8" fill="#111" stroke="#111" stroke-width="0.15" textLength="26.8" lengthAdjust="spacingAndGlyphs">02:43.0</text>
<text transform="translate(415.6 443.7) rotate(-90)" font-size="8.8" fill="#111" stroke="#111" stroke-width="0.15" textLength="26.8" lengthAdjust="spacingAndGlyphs">04:37.0</text>
<text transform="translate(426.9 443.7) rotate(-90)" font-size="8.8" fill="#111" stroke="#111" stroke-width="0.15" textLength="26.8" lengthAdjust="spacingAndGlyphs">06:31.0</text>
<text transform="translate(438.2 443.7) rotate(-90)" font-size="8.8" fill="#111" stroke="#111" stroke-width="0.15" textLength="26.8" lengthAdjust="spacingAndGlyphs">08:25.0</text>
<text transform="translate(449.5 443.7) rotate(-90)" font-size="8.8" fill="#111" stroke="#111" stroke-width="0.15" textLength="26.8" lengthAdjust="spacingAndGlyphs">10:19.0</text>
<text transform="translate(460.8 443.7) rotate(-90)" font-size="8.8" fill="#111" stroke="#111" stroke-width="0.15" textLength="26.8" lengthAdjust="spacingAndGlyphs">12:13.0</text>
<text transform="translate(472.1 443.7) rotate(-90)" font-size="8.8" fill="#111" stroke="#111" stroke-width="0.15" textLength="26.8" lengthAdjust="spacingAndGlyphs">14:07.0</text>
<text transform="translate(483.4 443.7) rotate(-90)" font-size="8.8" fill="#111" stroke="#111" stroke-width="0.15" textLength="26.8" lengthAdjust="spacingAndGlyphs">16:01.0</text>
<text transform="translate(494.7 443.7) rotate(-90)" font-size="8.8" fill="#111" stroke="#111" stroke-width="0.15" textLength="26.8" lengthAdjust="spacingAndGlyphs">17:55.0</text>
<text transform="translate(506.0 443.7) rotate(-90)" font-size="8.8" fill="#111" stroke="#111" stroke-width="0.15" textLength="26.8" lengthAdjust="spacingAndGlyphs">19:49.0</text>
<text transform="translate(517.3 443.7) rotate(-90)" font-size="8.8" fill="#111" stroke="#111" stroke-width="0.15" textLength="26.8" lengthAdjust="spacingAndGlyphs">21:43.0</text>
<text transform="translate(528.7 443.7) rotate(-90)" font-size="8.8" fill="#111" stroke="#111" stroke-width="0.15" textLength="26.8" lengthAdjust="spacingAndGlyphs">23:37.0</text>
<text transform="translate(540.0 443.7) rotate(-90)" font-size="8.8" fill="#111" stroke="#111" stroke-width="0.15" textLength="26.8" lengthAdjust="spacingAndGlyphs">25:31.0</text>
<text transform="translate(551.3 443.7) rotate(-90)" font-size="8.8" fill="#111" stroke="#111" stroke-width="0.15" textLength="26.8" lengthAdjust="spacingAndGlyphs">27:25.0</text>
<text transform="translate(562.6 443.7) rotate(-90)" font-size="8.8" fill="#111" stroke="#111" stroke-width="0.15" textLength="26.8" lengthAdjust="spacingAndGlyphs">29:19.0</text>
<text transform="translate(573.9 443.7) rotate(-90)" font-size="8.8" fill="#111" stroke="#111" stroke-width="0.15" textLength="26.8" lengthAdjust="spacingAndGlyphs">31:13.0</text>
<text transform="translate(585.2 443.7) rotate(-90)" font-size="8.8" fill="#111" stroke="#111" stroke-width="0.15" textLength="26.8" lengthAdjust="spacingAndGlyphs">33:07.0</text>
<text transform="translate(596.5 443.7) rotate(-90)" font-size="8.8" fill="#111" stroke="#111" stroke-width="0.15" textLength="26.8" lengthAdjust="spacingAndGlyphs">35:01.0</text>
<text transform="translate(607.8 443.7) rotate(-90)" font-size="8.8" fill="#111" stroke="#111" stroke-width="0.15" textLength="26.8" lengthAdjust="spacingAndGlyphs">36:55.0</text>
<rect x="79.1" y="11.1" width="17.4" height="4.6" fill="#d9d9d9"/>
<text x="98.7" y="16" font-size="9.2" fill="#111" stroke="#111" stroke-width="0.15" textLength="18.9" lengthAdjust="spacingAndGlyphs">&lt;UT2</text>
<rect x="126.8" y="11.1" width="17.4" height="4.6" fill="#ffc000"/>
<text x="148.7" y="16" font-size="9.2" fill="#111" stroke="#111" stroke-width="0.15" textLength="14.4" lengthAdjust="spacingAndGlyphs">UT2</text>
<rect x="172.7" y="11.1" width="17.4" height="4.6" fill="#92d050"/>
<text x="194.6" y="16" font-size="9.2" fill="#111" stroke="#111" stroke-width="0.15" textLength="14.3" lengthAdjust="spacingAndGlyphs">UT1</text>
<rect x="218.3" y="11.1" width="17.4" height="4.6" fill="#00b0f0"/>
<text x="239.7" y="16" font-size="9.2" fill="#111" stroke="#111" stroke-width="0.15" textLength="9.5" lengthAdjust="spacingAndGlyphs">AT</text>
<rect x="258.5" y="11.1" width="17.4" height="4.6" fill="#7030a0"/>
<text x="280.2" y="16" font-size="9.2" fill="#111" stroke="#111" stroke-width="0.15" textLength="9.3" lengthAdjust="spacingAndGlyphs">TR</text>
<rect x="299.0" y="11.1" width="17.4" height="4.6" fill="#ff0000"/>
<text x="320.5" y="16" font-size="9.2" fill="#111" stroke="#111" stroke-width="0.15" textLength="10.4" lengthAdjust="spacingAndGlyphs">AN</text>
<line x1="339.8" x2="358.8" y1="13" y2="13" stroke="#000" stroke-width="2"/>
<text x="362.5" y="16" font-size="9.2" fill="#111" stroke="#111" stroke-width="0.15" textLength="14.6" lengthAdjust="spacingAndGlyphs">UT2</text>
<line x1="385.5" x2="404.5" y1="13" y2="13" stroke="#000" stroke-width="2"/>
<text x="407.6" y="16" font-size="9.2" fill="#111" stroke="#111" stroke-width="0.15" textLength="14.4" lengthAdjust="spacingAndGlyphs">UT1</text>
<line x1="431.2" x2="450.2" y1="13" y2="13" stroke="#000" stroke-width="2"/>
<text x="453.4" y="16" font-size="9.2" fill="#111" stroke="#111" stroke-width="0.15" textLength="9.6" lengthAdjust="spacingAndGlyphs">AT</text>
<line x1="471.5" x2="490.5" y1="13" y2="13" stroke="#000" stroke-width="2"/>
<text x="493.5" y="16" font-size="9.2" fill="#111" stroke="#111" stroke-width="0.15" textLength="9.2" lengthAdjust="spacingAndGlyphs">TR</text>
<line x1="511.6" x2="530.6" y1="13" y2="13" stroke="#000" stroke-width="2"/>
<text x="534.0" y="16" font-size="9.2" fill="#111" stroke="#111" stroke-width="0.15" textLength="10.6" lengthAdjust="spacingAndGlyphs">AN</text>
<rect x="-1" y="-1" width="2.6" height="2.6" fill="#d4d4d4"/><rect x="618.6" y="-1" width="2.4" height="2.4" fill="#e4e4e4"/><rect x="-1" y="447.8" width="2" height="2" fill="#f2f2f2"/>
</svg></body></html>
